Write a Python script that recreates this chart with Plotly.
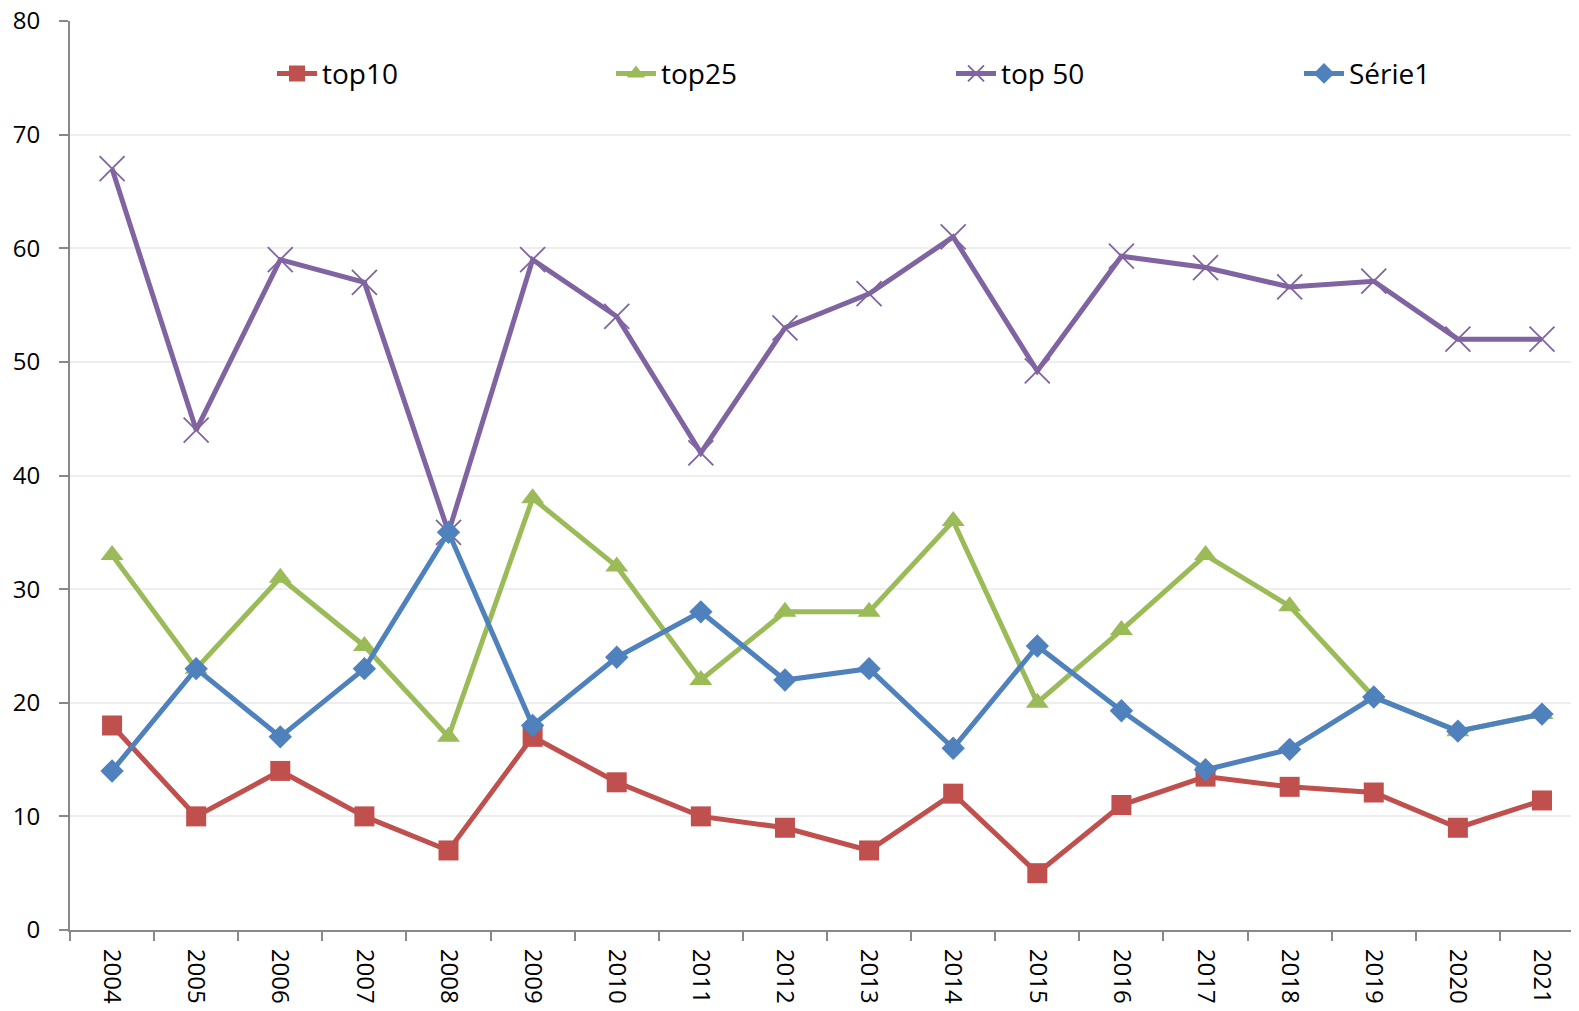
import plotly.graph_objects as go

years = [str(y) for y in range(2004, 2022)]
top10 = [18, 10, 14, 10, 7, 17, 13, 10, 9, 7, 12, 5, 11, 13.5, 12.6, 12.1, 9, 11.4]
top25 = [33, 23, 31, 25, 17, 38, 32, 22, 28, 28, 36, 20, 26.4, 33, 28.5, 20.5, 17.5, 19]
top50 = [67, 44, 59, 57, 35, 59, 54, 42, 53, 56, 61, 49.2, 59.3, 58.3, 56.6, 57.1, 52, 52]
serie1 = [14, 23, 17, 23, 35, 18, 24, 28, 22, 23, 16, 25, 19.3, 14.1, 15.9, 20.5, 17.5, 19]

FONT = "Open Sans"
fig = go.Figure()
fig.add_trace(go.Scatter(x=years, y=top10, name="top10", mode="lines+markers",
                         legend="legend",
                         line=dict(color="#C0504D", width=5),
                         marker=dict(symbol="square", size=20, color="#C0504D")))
fig.add_trace(go.Scatter(x=years, y=top25, name="top25", mode="lines+markers",
                         legend="legend2",
                         line=dict(color="#9BBB59", width=5),
                         marker=dict(symbol="triangle-up", size=20, color="#9BBB59")))
fig.add_trace(go.Scatter(x=years, y=top50, name="top 50", mode="lines+markers",
                         legend="legend3",
                         line=dict(color="#8064A2", width=5),
                         marker=dict(symbol="x-thin", size=25, color="#8064A2",
                                     line=dict(color="#8064A2", width=1.8))))
fig.add_trace(go.Scatter(x=years, y=serie1, name="Série1", mode="lines+markers",
                         legend="legend4",
                         line=dict(color="#4F81BD", width=5),
                         marker=dict(symbol="diamond", size=18, color="#4F81BD")))

def leg(xpos):
    return dict(orientation="h", x=xpos, xanchor="left", y=0.942, yanchor="middle",
                xref="paper", font=dict(size=28, family=FONT, color="black"),
                bgcolor="rgba(0,0,0,0)", itemwidth=40)

# page has an 8px body margin; plot area spans page x = 70 .. 1579 px
PW = 1509.0
fig.update_layout(
    width=1571, height=1003,
    margin=dict(l=62, r=0, t=13, b=81),
    paper_bgcolor="white", plot_bgcolor="white",
    font=dict(family=FONT, size=24, color="black"),
    showlegend=True,
    legend=leg((272 - 70) / PW),
    legend2=leg((611 - 70) / PW),
    legend3=leg((951 - 70) / PW),
    legend4=leg((1299 - 70) / PW),
    xaxis=dict(type="category", range=[-0.5, 17.44], tickangle=90, tickson="boundaries",
               ticks="outside", ticklen=9, tickcolor="#888888", tickwidth=1.5,
               showline=True, linecolor="#888888", linewidth=2,
               showgrid=False, tickfont=dict(size=24, family=FONT),
               automargin=False, ticklabelstandoff=12, ticklabeloverflow="allow"),
    yaxis=dict(range=[0, 80], dtick=10, ticks="outside", ticklen=9, tickcolor="#888888",
               tickwidth=1.5,
               showline=True, linecolor="#888888", linewidth=2,
               showgrid=True, gridcolor="#EEEEEE", gridwidth=1.5, zeroline=False,
               tickfont=dict(size=24, family=FONT), automargin=False,
               ticklabelstandoff=14, ticklabeloverflow="allow"),
)

fig.write_html("out.html")
